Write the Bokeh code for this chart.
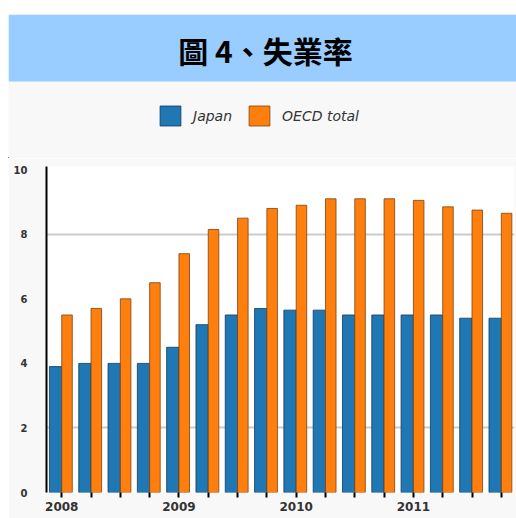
from bokeh.plotting import figure
from bokeh.layouts import column
from bokeh.models import ColumnDataSource, FixedTicker, Range1d, Legend, LegendItem, BoxAnnotation
from bokeh.core.properties import value
from bokeh.transform import dodge
from bokeh.embed import file_html
from bokeh.resources import INLINE

title_text = "圖 4、失業率"
quarters = ["2008Q1", "2008Q2", "2008Q3", "2008Q4",
            "2009Q1", "2009Q2", "2009Q3", "2009Q4",
            "2010Q1", "2010Q2", "2010Q3", "2010Q4",
            "2011Q1", "2011Q2", "2011Q3", "2011Q4"]
year_labels = {0: "2008", 4: "2009", 8: "2010", 12: "2011"}
series_names = ["Japan", "OECD total"]
japan = [3.9, 4.0, 4.0, 4.0, 4.5, 5.2, 5.5, 5.7, 5.65, 5.65, 5.5, 5.5, 5.5, 5.5, 5.4, 5.4]
oecd = [5.5, 5.7, 6.0, 6.5, 7.4, 8.15, 8.5, 8.8, 8.9, 9.1, 9.1, 9.1, 9.05, 8.85, 8.75, 8.65]
y_ticks = [0, 2, 4, 6, 8, 10]
grid_ticks = [2, 8]

idx = list(range(len(quarters)))

blue, blue_edge = "#1f77b4", "#103a5c"
orange, orange_edge = "#ff7f0e", "#7a4410"

# ---- header: title band + legend (pixel-like ranges) ----
top = figure(width=516, height=158, x_range=Range1d(0, 508), y_range=Range1d(0, 144),
             output_backend="svg", toolbar_location=None,
             x_axis_location=None, y_axis_location=None,
             min_border_top=14, min_border_bottom=0, min_border_left=8, min_border_right=0,
             background_fill_color="#f8f8f8", border_fill_color="white",
             outline_line_color=None, frame_align=False)
top.grid.visible = False
top.add_layout(BoxAnnotation(bottom=77, fill_color="#99ccff", fill_alpha=1,
                             line_color=None, level="underlay"))
top.text(x=[257], y=[109], text=[title_text], text_font=value("Noto Sans CJK TC"),
         text_font_style="bold", text_font_size="30px", text_align="center",
         text_baseline="middle", text_color="black")
# legend keys styled like the chart's bars (their single point lies outside the view)
key_src = ColumnDataSource(dict(x=[-999], top=[1]))
kj = top.vbar(x="x", top="top", width=1, source=key_src, fill_color=blue,
              line_color=blue_edge, line_alpha=0.8, line_width=1)
ko = top.vbar(x="x", top="top", width=1, source=key_src, fill_color=orange,
              line_color=orange_edge, line_alpha=0.8, line_width=1)
legend = Legend(items=[LegendItem(label=series_names[0], renderers=[kj]),
                       LegendItem(label=series_names[1], renderers=[ko])],
                orientation="horizontal", location=(149, 30),
                glyph_width=26, glyph_height=25, label_standoff=10, spacing=14,
                padding=0, margin=0, border_line_color=None, background_fill_alpha=0,
                label_text_font_size="14px", label_text_font_style="italic",
                label_text_color="#333333", label_text_font="DejaVu Sans")
top.add_layout(legend)

# ---- chart ----
p = figure(width=508, height=360, x_range=Range1d(-0.52, 15.45), y_range=Range1d(0, 10.1),
           output_backend="svg", toolbar_location=None,
           min_border_top=8, min_border_bottom=26, min_border_left=38, min_border_right=2,
           background_fill_color="white", border_fill_color="#f8f8f8",
           outline_line_color=None, frame_align=False)
p.margin = (0, 0, 0, 8)

src = ColumnDataSource(dict(x=idx, japan=japan, oecd=oecd))
p.vbar(x=dodge("x", -0.21, range=p.x_range), top="japan", width=0.42, source=src,
       fill_color=blue, line_color=blue_edge, line_alpha=0.8, line_width=1)
p.vbar(x=dodge("x", 0.18, range=p.x_range), top="oecd", width=0.36, source=src,
       fill_color=orange, line_color=orange_edge, line_alpha=0.8, line_width=1)

p.xgrid.visible = False
p.ygrid.ticker = FixedTicker(ticks=grid_ticks)
p.ygrid.grid_line_color = "#cccccc"
p.ygrid.grid_line_width = 2

p.xaxis.ticker = FixedTicker(ticks=idx)
p.xaxis.major_label_overrides = {i: year_labels.get(i, "") for i in idx}
p.xaxis.axis_line_color = None
p.xaxis.major_tick_line_color = "black"
p.xaxis.major_tick_line_width = 2
p.xaxis.major_tick_out = 5
p.xaxis.major_tick_in = 0
p.xaxis.minor_tick_line_color = None
p.xaxis.major_label_standoff = 4
p.xaxis.major_label_text_font = "DejaVu Sans"
p.xaxis.major_label_text_font_size = "12px"
p.xaxis.major_label_text_font_style = "bold"
p.xaxis.major_label_text_color = "#333333"

p.yaxis.ticker = FixedTicker(ticks=y_ticks)
p.yaxis.axis_line_color = "black"
p.yaxis.axis_line_width = 2
p.yaxis.major_tick_out = 0
p.yaxis.major_tick_in = 0
p.yaxis.minor_tick_line_color = None
p.yaxis.major_label_standoff = 19
p.yaxis.major_label_text_font = "DejaVu Sans"
p.yaxis.major_label_text_font_size = "10px"
p.yaxis.major_label_text_font_style = "bold"
p.yaxis.major_label_text_color = "#333333"

layout = column(top, p, spacing=0)
open("out.html", "w").write(file_html(layout, INLINE))
